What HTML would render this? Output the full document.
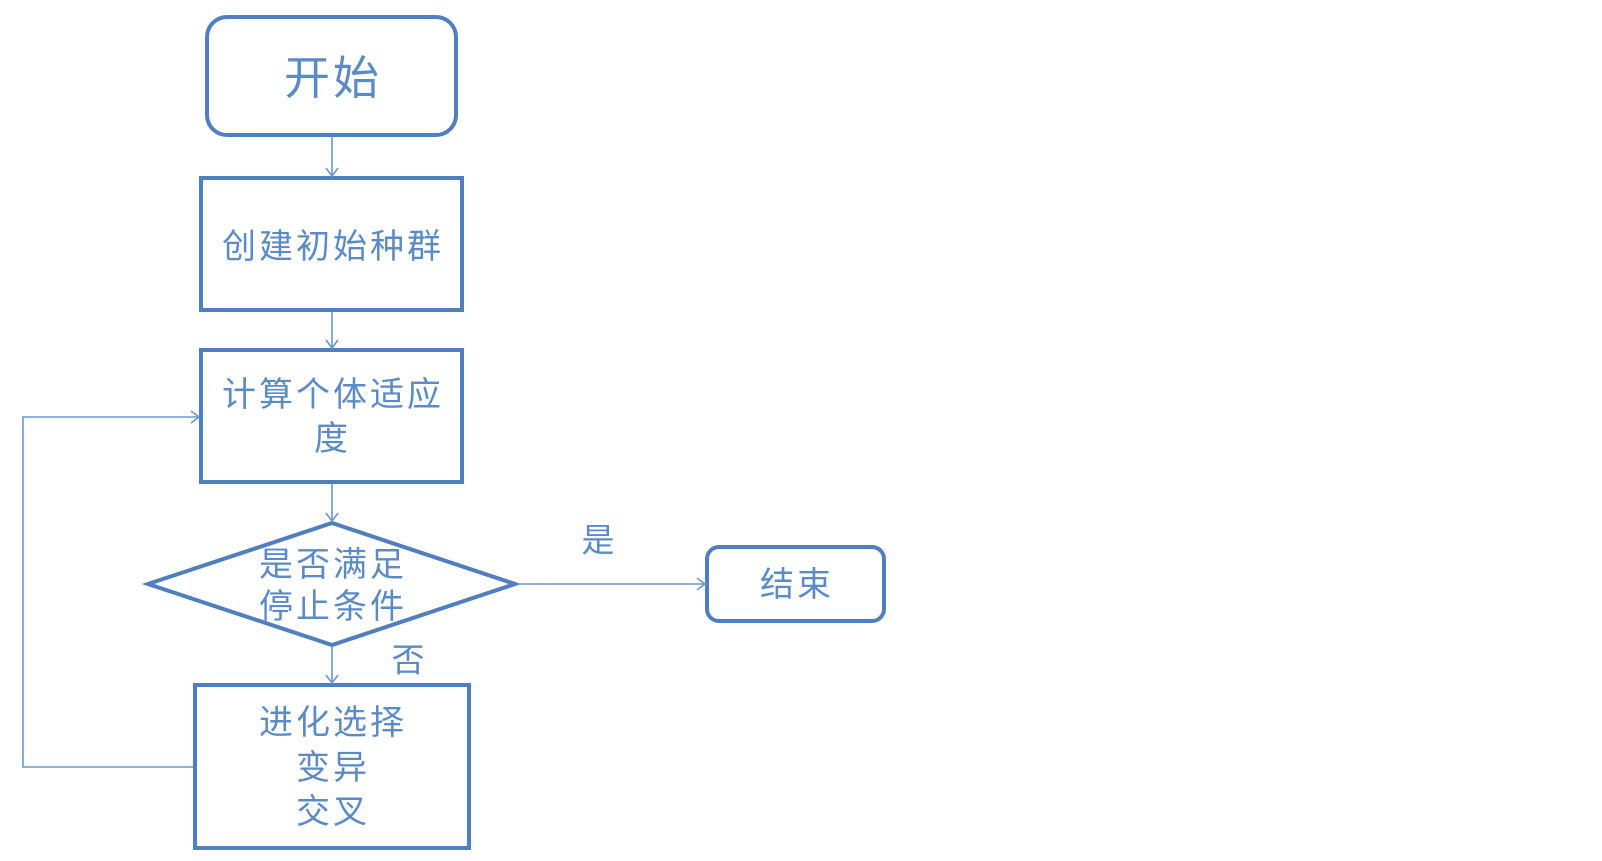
<!DOCTYPE html>
<html>
<head>
<meta charset="utf-8">
<style>
  html, body { margin:0; padding:0; background:#fff; }
  body { width:1602px; height:861px; overflow:hidden; }
  svg { display:block; }
  text { font-family: "Liberation Sans", "Noto Sans CJK SC", "WenQuanYi Zen Hei", sans-serif; fill:#5b8bc7; dominant-baseline:central; text-anchor:middle; }
</style>
</head>
<body>
<svg width="1602" height="861" viewBox="0 0 1602 861" xmlns="http://www.w3.org/2000/svg">
  <g fill="none" stroke="#4f7fbe" stroke-width="4" stroke-linejoin="round">
    <rect x="207" y="17" width="249" height="118" rx="20" ry="20"/>
    <rect x="201" y="178" width="261" height="132" stroke-linejoin="miter"/>
    <rect x="201" y="350" width="261" height="132" stroke-linejoin="miter"/>
    <polygon points="332,523 515,584 332,645 148,584" stroke-linejoin="miter"/>
    <rect x="195" y="685" width="274" height="163" stroke-linejoin="miter"/>
    <rect x="707" y="547" width="177" height="74" rx="12" ry="12"/>
  </g>
  <g fill="none" stroke="#6a97cf" stroke-width="1.6">
    <line x1="332" y1="137" x2="332" y2="176"/>
    <polyline points="326,168 332,176 338,168"/>
    <line x1="332" y1="312" x2="332" y2="348"/>
    <polyline points="326,340 332,348 338,340"/>
    <line x1="332" y1="484" x2="332" y2="521"/>
    <polyline points="326,513 332,521 338,513"/>
    <line x1="332" y1="647" x2="332" y2="683"/>
    <polyline points="326,675 332,683 338,675"/>
    <line x1="517" y1="584" x2="705" y2="584"/>
    <polyline points="697,578 705,584 697,590"/>
    <polyline points="193,767 23,767 23,417 199,417"/>
    <polyline points="191,411 199,417 191,423"/>
  </g>
  <text x="333" y="78" font-size="46" letter-spacing="3">开始</text>
  <text x="333" y="247" font-size="34" letter-spacing="3">创建初始种群</text>
  <text x="333" y="395" font-size="34" letter-spacing="3">计算个体适应</text>
  <text x="331" y="439" font-size="34">度</text>
  <text x="333" y="565" font-size="34" letter-spacing="3">是否满足</text>
  <text x="333" y="607" font-size="34" letter-spacing="3">停止条件</text>
  <text x="598" y="540" font-size="33">是</text>
  <text x="408" y="660" font-size="33">否</text>
  <text x="797" y="585" font-size="34" letter-spacing="3">结束</text>
  <text x="333" y="723" font-size="34" letter-spacing="3">进化选择</text>
  <text x="333" y="768" font-size="34" letter-spacing="3">变异</text>
  <text x="333" y="812" font-size="34" letter-spacing="3">交叉</text>
</svg>
</body>
</html>
